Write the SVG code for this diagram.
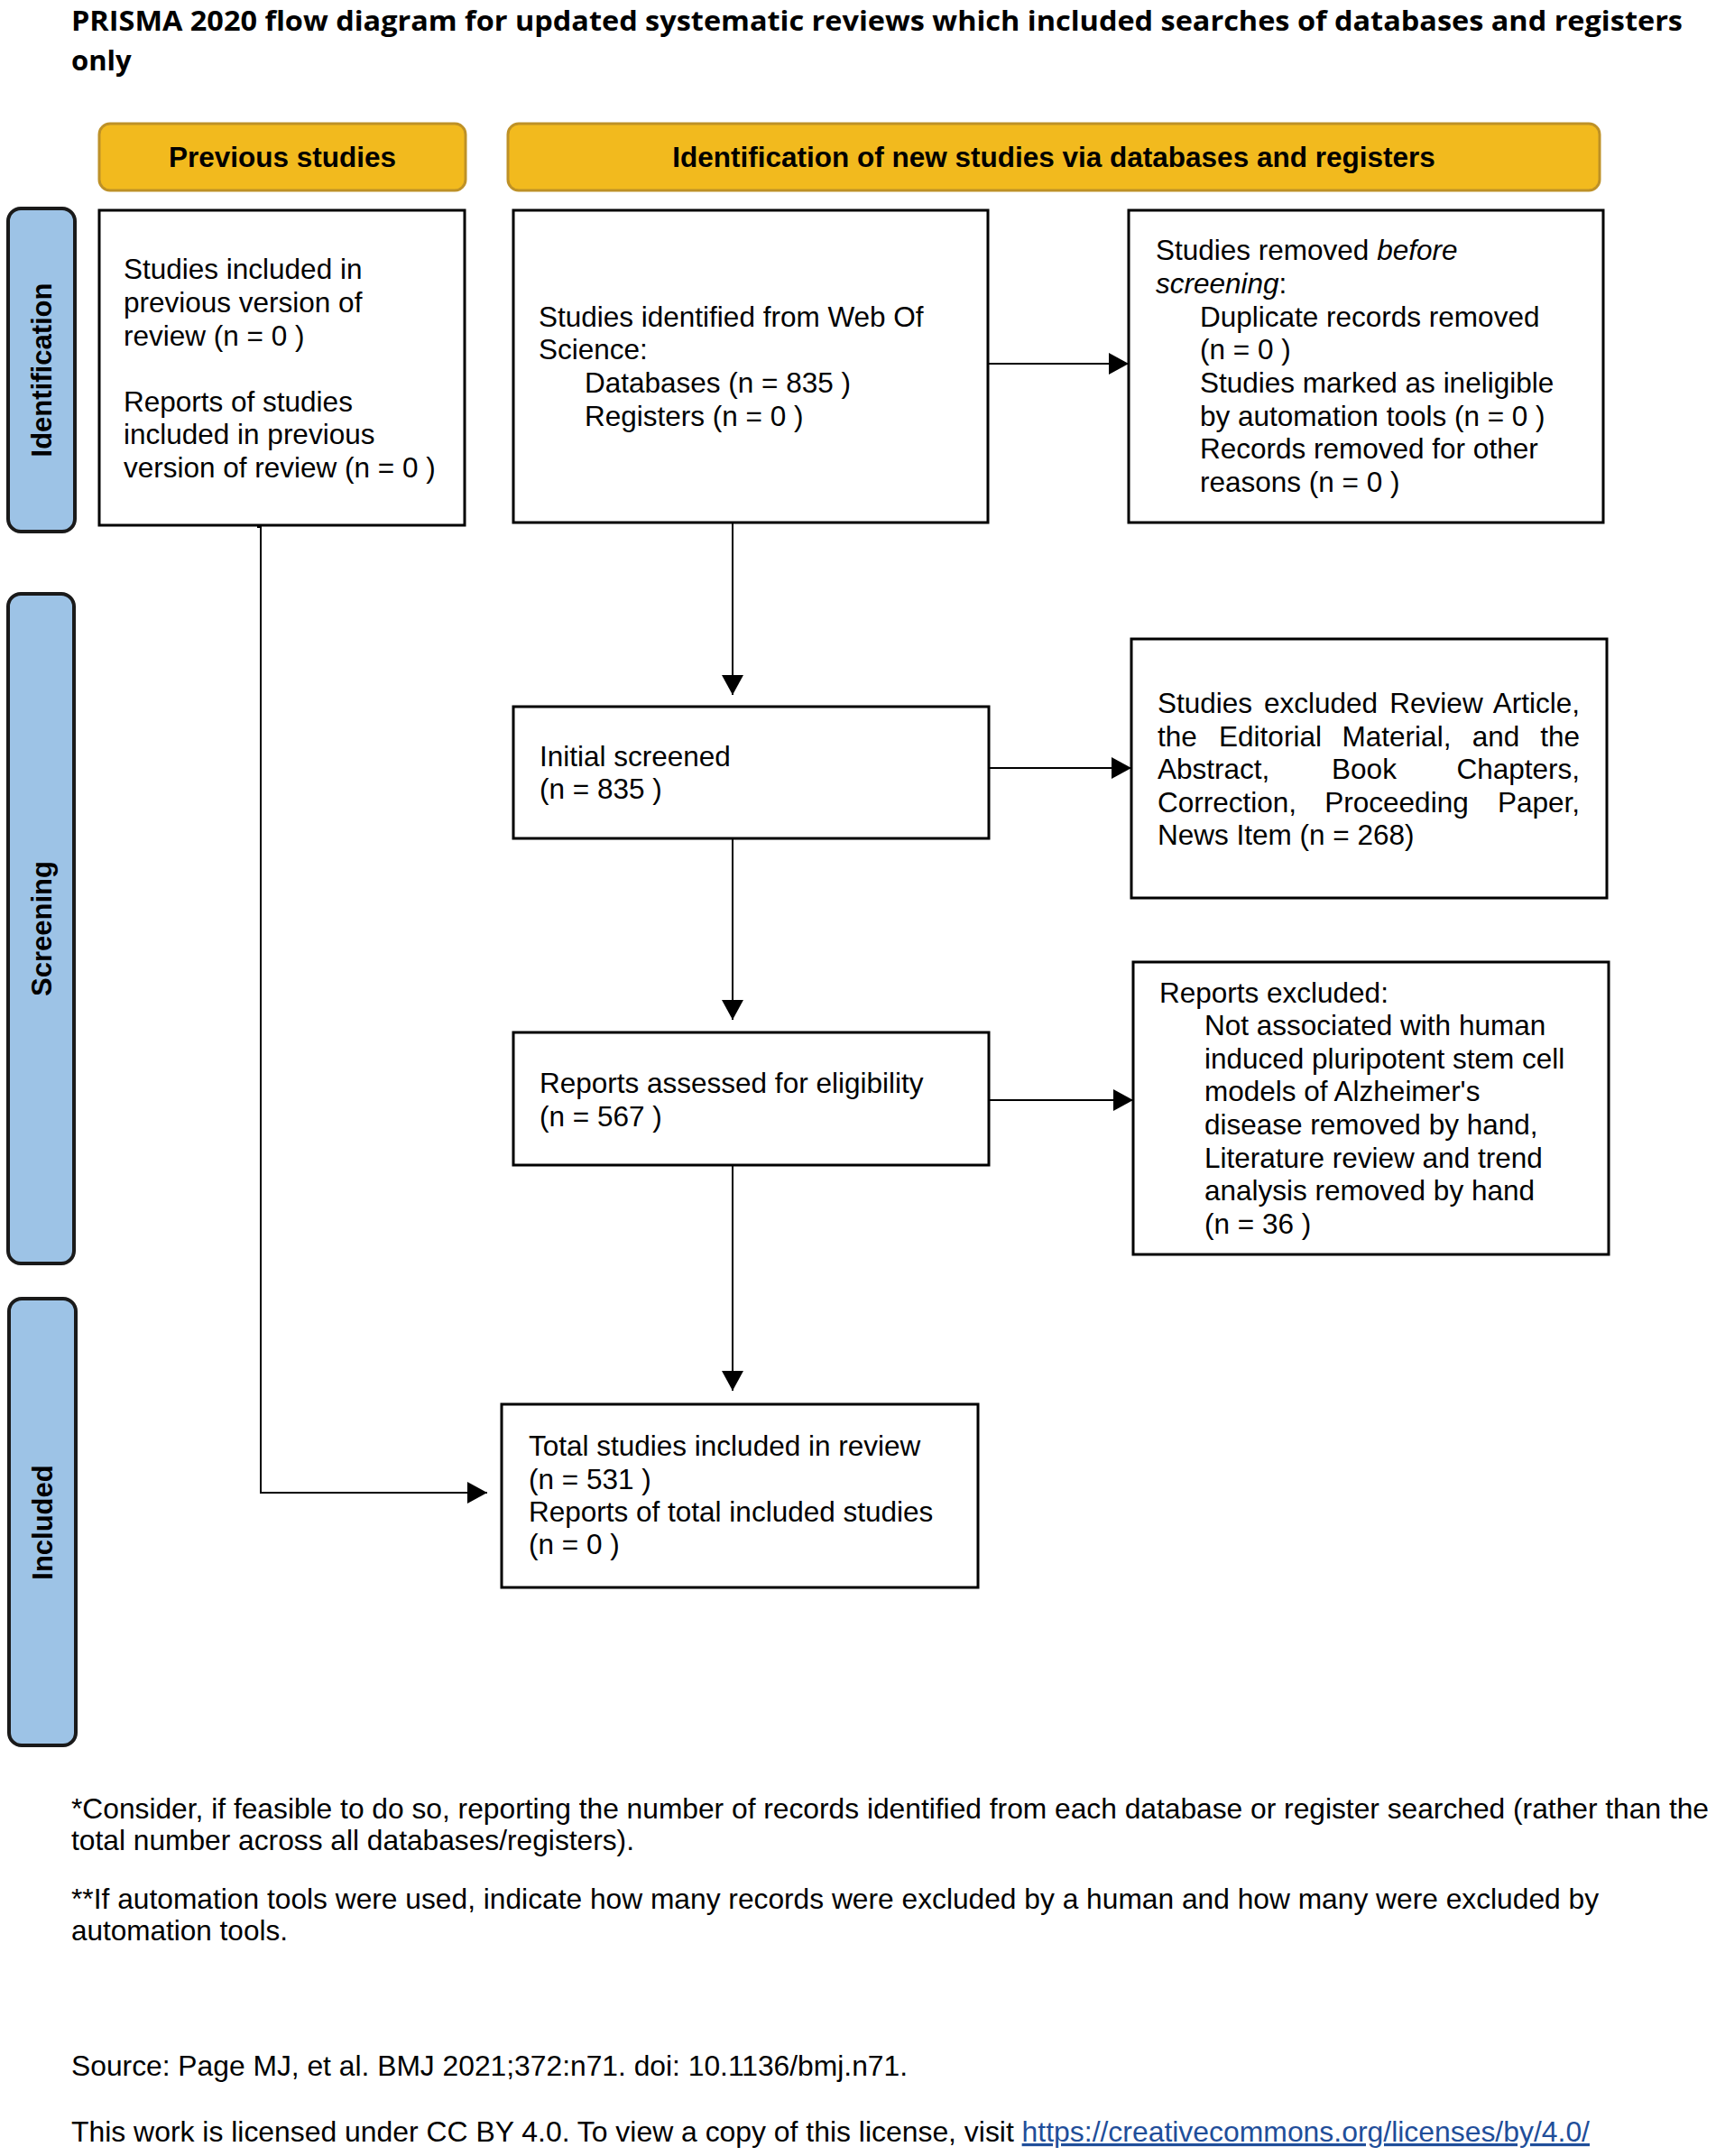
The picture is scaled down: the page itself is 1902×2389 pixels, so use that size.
<svg xmlns="http://www.w3.org/2000/svg" width="1902" height="2389" viewBox="0 0 1902 2389">
<style>
.bg{fill:#ffffff}
.box{fill:#ffffff;stroke:#000000;stroke-width:3}
.hdr{fill:#F2BA1E;stroke:#BE9127;stroke-width:3}
.side{fill:#9DC3E6;stroke:#1A1A1A;stroke-width:4}
.t{font-family:"Liberation Sans",Arial,sans-serif;font-size:31.5px;fill:#000000}
.b{font-weight:bold}
.lbl{font-family:"Liberation Sans",Arial,sans-serif;font-size:31px;font-weight:bold;fill:#000000}
.title{font-family:"Open Sans","Liberation Sans",Arial,sans-serif;font-size:31px;font-weight:bold;fill:#000000}
.conn{stroke:#000000;stroke-width:2;fill:none}
.it{font-style:italic}
.link{fill:#1F4E9A;text-decoration:underline}
</style>
<defs>
<marker id="arr" markerUnits="userSpaceOnUse" markerWidth="23" markerHeight="24" refX="22" refY="12" orient="auto">
<path d="M0,0 L22,12 L0,24 z" fill="#000000"/>
</marker>
</defs>
<rect class="bg" x="0" y="0" width="1902" height="2389"/>

<g id="title">
<text class="title" x="79" y="34" textLength="1786" lengthAdjust="spacingAndGlyphs">PRISMA 2020 flow diagram for updated systematic reviews which included searches of databases and registers</text>
<text class="title" x="79" y="78">only</text>
</g>

<g id="header-previous">
<rect class="hdr" x="110" y="137" width="406" height="74" rx="12"/>
<text class="t b" x="313" y="185" text-anchor="middle">Previous studies</text>
</g>
<g id="header-new">
<rect class="hdr" x="563" y="137" width="1210" height="74" rx="12"/>
<text class="t b" x="1168" y="185" text-anchor="middle">Identification of new studies via databases and registers</text>
</g>

<g id="side-identification">
<rect class="side" x="9" y="231" width="74" height="358" rx="14"/>
<text class="lbl" transform="translate(57,410) rotate(-90)" text-anchor="middle">Identification</text>
</g>
<g id="side-screening">
<rect class="side" x="9" y="658" width="73" height="742" rx="14"/>
<text class="lbl" transform="translate(57,1029) rotate(-90)" text-anchor="middle">Screening</text>
</g>
<g id="side-included">
<rect class="side" x="10" y="1439" width="74" height="495" rx="14"/>
<text class="lbl" transform="translate(58,1687) rotate(-90)" text-anchor="middle">Included</text>
</g>

<g id="box-previous">
<rect class="box" x="110" y="233" width="405" height="349"/>
<text class="t" x="137" y="309">Studies included in</text>
<text class="t" x="137" y="346">previous version of</text>
<text class="t" x="137" y="383">review (n = 0 )</text>
<text class="t" x="137" y="456">Reports of studies</text>
<text class="t" x="137" y="492">included in previous</text>
<text class="t" x="137" y="529">version of review (n = 0 )</text>
</g>

<g id="box-identified">
<rect class="box" x="569" y="233" width="526" height="346"/>
<text class="t" x="597" y="362">Studies identified from Web Of</text>
<text class="t" x="597" y="398">Science:</text>
<text class="t" x="648" y="435">Databases (n = 835 )</text>
<text class="t" x="648" y="472">Registers (n = 0 )</text>
</g>

<g id="box-removed">
<rect class="box" x="1251" y="233" width="526" height="346"/>
<text class="t" x="1281" y="288">Studies removed <tspan class="it">before</tspan></text>
<text class="t" x="1281" y="325"><tspan class="it">screening</tspan>:</text>
<text class="t" x="1330" y="362">Duplicate records removed</text>
<text class="t" x="1330" y="398">(n = 0 )</text>
<text class="t" x="1330" y="435">Studies marked as ineligible</text>
<text class="t" x="1330" y="472">by automation tools (n = 0 )</text>
<text class="t" x="1330" y="508">Records removed for other</text>
<text class="t" x="1330" y="545">reasons (n = 0 )</text>
</g>

<g id="box-initial">
<rect class="box" x="569" y="783" width="527" height="146"/>
<text class="t" x="598" y="849">Initial screened</text>
<text class="t" x="598" y="885">(n = 835 )</text>
</g>

<g id="box-excluded">
<rect class="box" x="1254" y="708" width="527" height="287"/>
<text class="t" x="1283" y="790">Studies</text>
<text class="t" x="1464" y="790" text-anchor="middle">excluded</text>
<text class="t" x="1592" y="790" text-anchor="middle">Review</text>
<text class="t" x="1751" y="790" text-anchor="end">Article,</text>
<text class="t" x="1283" y="827">the</text>
<text class="t" x="1408" y="827" text-anchor="middle">Editorial</text>
<text class="t" x="1548" y="827" text-anchor="middle">Material,</text>
<text class="t" x="1658" y="827" text-anchor="middle">and</text>
<text class="t" x="1751" y="827" text-anchor="end">the</text>
<text class="t" x="1283" y="863">Abstract,</text>
<text class="t" x="1512" y="863" text-anchor="middle">Book</text>
<text class="t" x="1751" y="863" text-anchor="end">Chapters,</text>
<text class="t" x="1283" y="900">Correction,</text>
<text class="t" x="1548" y="900" text-anchor="middle">Proceeding</text>
<text class="t" x="1751" y="900" text-anchor="end">Paper,</text>
<text class="t" x="1283" y="936">News Item (n = 268)</text>
</g>

<g id="box-assessed">
<rect class="box" x="569" y="1144" width="527" height="147"/>
<text class="t" x="598" y="1211">Reports assessed for eligibility</text>
<text class="t" x="598" y="1248">(n = 567 )</text>
</g>

<g id="box-reports-excluded">
<rect class="box" x="1256" y="1066" width="527" height="324"/>
<text class="t" x="1285" y="1111">Reports excluded:</text>
<text class="t" x="1335" y="1147">Not associated with human</text>
<text class="t" x="1335" y="1184">induced pluripotent stem cell</text>
<text class="t" x="1335" y="1220">models of Alzheimer's</text>
<text class="t" x="1335" y="1257">disease removed by hand,</text>
<text class="t" x="1335" y="1294">Literature review and trend</text>
<text class="t" x="1335" y="1330">analysis removed by hand</text>
<text class="t" x="1335" y="1367">(n = 36 )</text>
</g>

<g id="box-total">
<rect class="box" x="556" y="1556" width="528" height="203"/>
<text class="t" x="586" y="1613">Total studies included in review</text>
<text class="t" x="586" y="1650">(n = 531 )</text>
<text class="t" x="586" y="1686">Reports of total included studies</text>
<text class="t" x="586" y="1722">(n = 0 )</text>
</g>

<g id="connectors">
<line class="conn" x1="1095" y1="403" x2="1251" y2="403" marker-end="url(#arr)"/>
<line class="conn" x1="812" y1="579" x2="812" y2="770" marker-end="url(#arr)"/>
<line class="conn" x1="1096" y1="851" x2="1254" y2="851" marker-end="url(#arr)"/>
<line class="conn" x1="812" y1="929" x2="812" y2="1130" marker-end="url(#arr)"/>
<line class="conn" x1="1096" y1="1219" x2="1256" y2="1219" marker-end="url(#arr)"/>
<line class="conn" x1="812" y1="1291" x2="812" y2="1541" marker-end="url(#arr)"/>
<path class="conn" d="M285,584 H289 V1654 H540" marker-end="url(#arr)"/>
</g>

<g id="footer">
<text class="t" x="79" y="2015" textLength="1815" lengthAdjust="spacingAndGlyphs">*Consider, if feasible to do so, reporting the number of records identified from each database or register searched (rather than the</text>
<text class="t" x="79" y="2050" textLength="624" lengthAdjust="spacingAndGlyphs">total number across all databases/registers).</text>
<text class="t" x="79" y="2115" textLength="1693" lengthAdjust="spacingAndGlyphs">**If automation tools were used, indicate how many records were excluded by a human and how many were excluded by</text>
<text class="t" x="79" y="2150">automation tools.</text>
<text class="t" x="79" y="2300" textLength="927" lengthAdjust="spacingAndGlyphs">Source: Page MJ, et al. BMJ 2021;372:n71. doi: 10.1136/bmj.n71.</text>
<text class="t" x="79" y="2373" textLength="1683" lengthAdjust="spacingAndGlyphs">This work is licensed under CC BY 4.0. To view a copy of this license, visit <tspan class="link">https://creativecommons.org/licenses/by/4.0/</tspan></text>
</g>
</svg>
